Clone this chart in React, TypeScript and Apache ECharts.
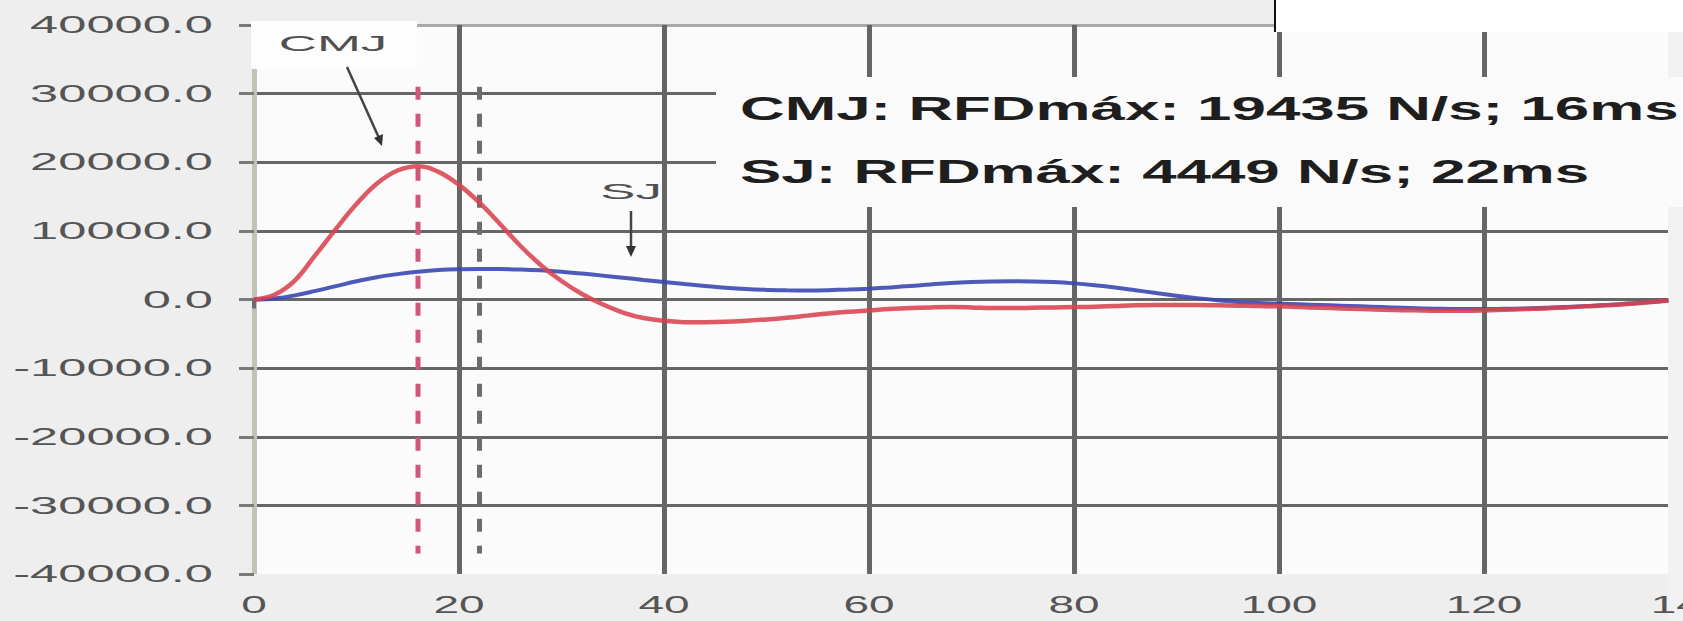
import React, { useEffect, useRef } from "react";
import * as echarts from "echarts";

// Time axis (ms) and rate of force development (N/s) for both jumps
const timeMs = [
  0, 2, 4, 6, 8, 10, 12, 14, 16, 18, 20, 22, 24, 26, 28, 30, 32, 34, 36, 38,
  40, 42, 44, 46, 48, 50, 52, 54, 56, 58, 60, 62, 64, 66, 68, 70, 72, 74, 76, 78,
  80, 82, 84, 86, 88, 90, 92, 94, 96, 98, 100, 102, 104, 106, 108, 110, 112, 114,
  116, 118, 120, 122, 124, 126, 128, 130, 132, 134, 136, 138,
];

const cmjRfd = [
  0, 700, 2800, 6500, 10300, 13900, 16900, 18800, 19435, 18600, 16700, 14100,
  11000, 7800, 5000, 2700, 800, -700, -1900, -2700, -3100, -3300, -3300, -3250,
  -3100, -2900, -2650, -2350, -2050, -1800, -1600, -1400, -1250, -1150, -1100,
  -1150, -1250, -1250, -1200, -1150, -1100, -1050, -950, -850, -800, -800, -800,
  -850, -900, -950, -1000, -1100, -1200, -1300, -1400, -1500, -1550, -1600,
  -1650, -1650, -1600, -1500, -1400, -1300, -1150, -1000, -850, -650, -400, -150,
];

const sjRfd = [
  0, 150, 600, 1250, 1950, 2650, 3250, 3700, 4050, 4300, 4420, 4449, 4440, 4380,
  4250, 4050, 3780, 3480, 3170, 2850, 2550, 2250, 1980, 1720, 1520, 1400, 1330,
  1320, 1360, 1450, 1580, 1750, 1950, 2200, 2420, 2560, 2640, 2660, 2640, 2540,
  2350, 2080, 1750, 1350, 950, 550, 200, -100, -350, -500, -600, -700, -800, -900,
  -1000, -1100, -1200, -1300, -1350, -1400, -1400, -1350, -1300, -1200, -1100,
  -950, -800, -600, -400, -150,
];

// Tick labels
const xTicks = [0, 20, 40, 60, 80, 100, 120, 140];
const yTicks = [-40000, -30000, -20000, -10000, 0, 10000, 20000, 30000, 40000];

// Peak RFD for each jump: value (N/s) and time (ms)
const cmjPeak = { name: "CMJ", rfd: 19435, ms: 16 };
const sjPeak = { name: "SJ", rfd: 4449, ms: 22 };

// Vertical extent of the peak-time markers
const markerSpan = [-37000, 31000];

const summary = [cmjPeak, sjPeak].map(
  (p) => `${p.name}: RFDmáx: ${p.rfd} N/s; ${p.ms}ms`
);

const DARK_GRID = "#666666";

export default function App() {
  const ref = useRef<HTMLDivElement>(null);

  useEffect(() => {
    const el = ref.current;
    if (!el) return;
    const chart = echarts.init(el, null, { renderer: "svg" });

    const toPairs = (ys: number[]) => timeMs.map((t, i) => [t, ys[i]]);
    const marker = (ms: number) => [
      [ms, markerSpan[1]],
      [ms, markerSpan[0]],
    ];

    chart.setOption({
      animation: false,
      backgroundColor: "#eeeeee",
      grid: {
        show: true,
        left: 254,
        top: 25,
        width: 1435,
        height: 549,
        backgroundColor: "#fbfbfb",
        borderWidth: 0,
      },
      xAxis: {
        type: "value",
        min: 0,
        max: 140,
        interval: 20,
        offset: 5,
        axisLine: { show: false },
        axisTick: { show: true, length: 9, lineStyle: { color: "#6c6c6c", width: 4 } },
        axisLabel: { show: false },
        splitLine: {
          show: true,
          showMinLine: true,
          showMaxLine: true,
          lineStyle: {
            color: ["#c6c1b7", DARK_GRID, DARK_GRID, DARK_GRID, DARK_GRID, DARK_GRID, DARK_GRID, DARK_GRID],
            width: 5,
          },
        },
      },
      yAxis: {
        type: "value",
        min: -40000,
        max: 40000,
        interval: 10000,
        offset: 16,
        axisLine: { show: false },
        axisTick: { show: true, length: 15, lineStyle: { color: "#7a7a7a", width: 3 } },
        axisLabel: { show: false },
        splitLine: {
          show: true,
          showMinLine: false,
          lineStyle: {
            color: [DARK_GRID, DARK_GRID, DARK_GRID, DARK_GRID, DARK_GRID, DARK_GRID, DARK_GRID, "#a9a9a9"],
            width: 3,
          },
        },
      },
      series: [
        {
          type: "line",
          data: marker(cmjPeak.ms),
          showSymbol: false,
          silent: true,
          z: 2,
          lineStyle: { color: "#d2567a", width: 5, type: [13, 14] },
        },
        {
          type: "line",
          data: marker(sjPeak.ms),
          showSymbol: false,
          silent: true,
          z: 2,
          lineStyle: { color: "#6c6c6c", width: 5, type: [13, 14] },
        },
        {
          name: "SJ",
          type: "line",
          data: toPairs(sjRfd),
          smooth: 0.4,
          showSymbol: false,
          z: 3,
          lineStyle: { color: "#3b48b3", width: 4, opacity: 0.9 },
        },
        {
          name: "CMJ",
          type: "line",
          data: toPairs(cmjRfd),
          smooth: 0.4,
          showSymbol: false,
          z: 4,
          lineStyle: { color: "#d8424e", width: 4.5, opacity: 0.88 },
        },
      ],
    });

    // Stretched tick labels placed through the axes' scales
    const labelFont = "23px 'Liberation Sans', Arial, sans-serif";
    const yMinPx = chart.convertToPixel({ gridIndex: 0 }, [0, -40000]) as number[];
    const x0Px = yMinPx[0];
    const bottomPx = yMinPx[1];

    const yLabels = yTicks.map((v) => {
      const p = chart.convertToPixel({ gridIndex: 0 }, [0, v]) as number[];
      return {
        type: "text",
        x: x0Px - 41,
        y: p[1],
        scaleX: 2.2,
        z: 10,
        style: {
          text: v.toFixed(1),
          font: labelFont,
          fill: "#555555",
          align: "right",
          verticalAlign: "middle",
        },
      };
    });

    const xLabels = xTicks.map((v) => {
      const p = chart.convertToPixel({ gridIndex: 0 }, [v, -40000]) as number[];
      return {
        type: "text",
        x: p[0],
        y: bottomPx + 31,
        scaleX: 2.0,
        z: 10,
        style: {
          text: String(v),
          font: labelFont,
          fill: "#555555",
          align: "center",
          verticalAlign: "middle",
        },
      };
    });

    const boldFont = "bold 34px 'Liberation Sans', Arial, sans-serif";
    const smallFont = "22px 'Liberation Sans', Arial, sans-serif";

    chart.setOption({
      graphic: [
        // right margin beyond the plot
        { type: "rect", z: 1, shape: { x: 1668, y: 0, width: 60, height: 621 }, style: { fill: "#f1f1f1" } },
        // panel behind the summary text
        { type: "rect", z: 2, shape: { x: 716, y: 77, width: 1010, height: 130 }, style: { fill: "#fafafa" } },
        // panel behind the CMJ label
        { type: "rect", z: 2, shape: { x: 251, y: 21, width: 166, height: 48 }, style: { fill: "#fdfdfd" } },
        // window edge at the top right
        { type: "rect", z: 3, shape: { x: 1274, y: 0, width: 460, height: 32 }, style: { fill: "#ffffff" } },
        { type: "line", z: 4, shape: { x1: 1275, y1: 0, x2: 1275, y2: 32 }, style: { stroke: "#111111", lineWidth: 2 } },
        ...yLabels,
        ...xLabels,
        // summary text
        ...summary.map((t, i) => ({
          type: "text",
          x: 740,
          y: 108 + i * 63,
          scaleX: 1.82,
          z: 10,
          style: { text: t, font: boldFont, fill: "#1e1e1e", align: "left", verticalAlign: "middle" },
        })),
        // series callouts
        {
          type: "text",
          x: 333,
          y: 43,
          scaleX: 2.4,
          z: 10,
          style: { text: cmjPeak.name, font: smallFont, fill: "#505050", align: "center", verticalAlign: "middle" },
        },
        { type: "line", z: 10, shape: { x1: 347, y1: 67, x2: 379, y2: 138 }, style: { stroke: "#444444", lineWidth: 2.5 } },
        {
          type: "polygon",
          z: 10,
          shape: { points: [[382, 146], [383, 134], [374, 138]] },
          style: { fill: "#333333" },
        },
        {
          type: "text",
          x: 631,
          y: 191,
          scaleX: 2.4,
          z: 10,
          style: { text: sjPeak.name, font: smallFont, fill: "#505050", align: "center", verticalAlign: "middle" },
        },
        { type: "line", z: 10, shape: { x1: 631, y1: 211, x2: 631, y2: 248 }, style: { stroke: "#444444", lineWidth: 2.5 } },
        {
          type: "polygon",
          z: 10,
          shape: { points: [[631, 257], [636, 246], [626, 246]] },
          style: { fill: "#333333" },
        },
      ],
    });

    return () => {
      chart.dispose();
    };
  }, []);

  return (
    <div
      style={{
        position: "fixed",
        left: 0,
        top: 0,
        width: 1683,
        height: 621,
        overflow: "hidden",
        background: "#eeeeee",
      }}
    >
      <div ref={ref} style={{ width: 1730, height: 621 }} />
    </div>
  );
}
